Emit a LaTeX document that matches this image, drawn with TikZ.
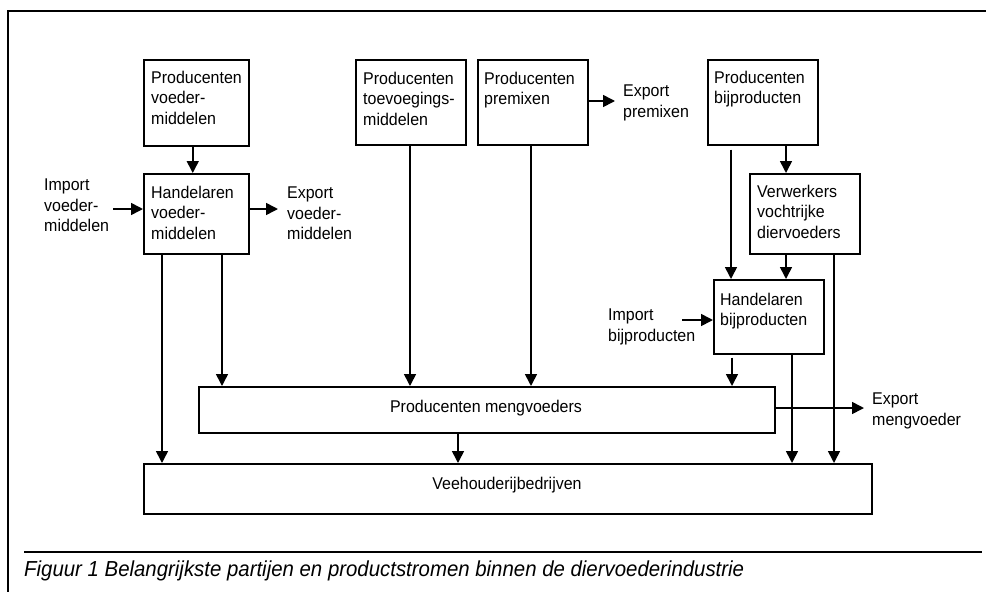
\documentclass[tikz,border=0pt]{standalone}
\usepackage{fontspec}
\setmainfont{Liberation Sans}[FakeStretch=0.94]
\usetikzlibrary{arrows.meta,calc}
\begin{document}
\begin{tikzpicture}[x=1pt,y=-1pt,
  box/.style={draw, line width=1.5pt, inner sep=0pt, anchor=north west},
  txt/.style={inner sep=0pt, anchor=north west, align=left, font=\fontsize{17}{20.3}\selectfont},
  ctxt/.style={inner sep=0pt, anchor=base, font=\fontsize{17}{20.3}\selectfont},
  arr/.style={line width=1.6pt, -{Triangle[length=12pt,width=12pt]}},
  ln/.style={line width=1.5pt}]
\useasboundingbox (0,0) rectangle (986,592);
% frame
\draw[line width=1.5pt] (986,11) -- (8,11) -- (8,592);
\draw[line width=2.6pt] (24,552) -- (982,552);
% boxes
\node[box, minimum width=105pt, minimum height=86pt] (pv) at (143,59) {};
\node[box, minimum width=105pt, minimum height=80pt] (hv) at (143,173) {};
\node[box, minimum width=110pt, minimum height=85pt] (pt) at (355,59) {};
\node[box, minimum width=110pt, minimum height=85pt] (pp) at (477,59) {};
\node[box, minimum width=110pt, minimum height=85pt] (pb) at (707,59) {};
\node[box, minimum width=110pt, minimum height=80pt] (vv) at (749,173) {};
\node[box, minimum width=110pt, minimum height=74pt] (hb) at (713,279) {};
\node[box, minimum width=576pt, minimum height=46pt] (pm) at (198,386) {};
\node[box, minimum width=728pt, minimum height=50pt] (vee) at (143,463) {};
% texts
\node[txt] (tpv) at (151,71) {Producenten\\voeder-\\middelen};
\node[txt] (thv) at (151,186) {Handelaren\\voeder-\\middelen};
\node[txt] (timpv) at (44,179) {Import\\voeder-\\middelen};
\node[txt] (texpv) at (287,187) {Export\\voeder-\\middelen};
\node[txt] (tpt) at (363,72) {Producenten\\toevoegings-\\middelen};
\node[txt] (tpp) at (484,72) {Producenten\\premixen};
\node[txt] (texpp) at (623,85) {Export\\premixen};
\node[txt] (tpb) at (714,71) {Producenten\\bijproducten};
\node[txt] (tvv) at (757,185) {Verwerkers\\vochtrijke\\diervoeders};
\node[txt] (thb) at (720,293) {Handelaren\\bijproducten};
\node[txt] (timpb) at (608,309) {Import\\bijproducten};
\node[txt] (texpm) at (872,393) {Export\\mengvoeder};
\node[ctxt] (tpm) at (486,412) {Producenten mengvoeders};
\node[ctxt] (tvee) at (507,489) {Veehouderijbedrijven};
\node[inner sep=0pt, anchor=base west, font=\fontsize{21.7}{24}\selectfont\itshape] (cap) at (24,576)
  {Figuur 1 Belangrijkste partijen en productstromen binnen de diervoederindustrie};
% free ends
\coordinate (impvA) at (113,209);
\coordinate (expvA) at (278,209);
\coordinate (exppA) at (615,101);
\coordinate (impbA) at (682,320);
\coordinate (expmA) at (864,408);
% connectors
\draw[arr] ([xshift=-3.5pt]pv.south) -- ([xshift=-3.5pt]hv.north);
\draw[arr] (impvA) -- (impvA -| hv.west);
\draw[arr] (impvA -| hv.east) -- (expvA);
\draw[arr] ([xshift=19pt]hv.south west) -- ([xshift=19pt]hv.south west |- vee.north);
\draw[arr] ([xshift=79pt]hv.south west) -- ([xshift=79pt]hv.south west |- pm.north);
\draw[arr] ([xshift=55pt]pt.south west) -- ([xshift=55pt]pt.south west |- pm.north);
\draw[arr] ([xshift=54pt]pp.south west) -- ([xshift=54pt]pp.south west |- pm.north);
\draw[arr] (exppA -| pp.east) -- (exppA);
\draw[arr] ([xshift=79pt]pb.south west) -- ([xshift=79pt]pb.south west |- vv.north);
\draw[arr, shorten <=4pt] ([xshift=24pt]pb.south west) -- ([xshift=24pt]pb.south west |- hb.north);
\draw[arr] ([xshift=37pt]vv.south west) -- ([xshift=37pt]vv.south west |- hb.north);
\draw[arr] ([xshift=85pt]vv.south west) -- ([xshift=85pt]vv.south west |- vee.north);
\draw[arr] (impbA) -- (impbA -| hb.west);
\draw[arr, shorten <=3pt] ([xshift=19pt]hb.south west) -- ([xshift=19pt]hb.south west |- pm.north);
\draw[arr] ([xshift=79pt]hb.south west) -- ([xshift=79pt]hb.south west |- vee.north);
\draw[arr] ([xshift=260pt]pm.south west) -- ([xshift=260pt]pm.south west |- vee.north);
\draw[arr] (expmA -| pm.east) -- (expmA);
\end{tikzpicture}
\end{document}
